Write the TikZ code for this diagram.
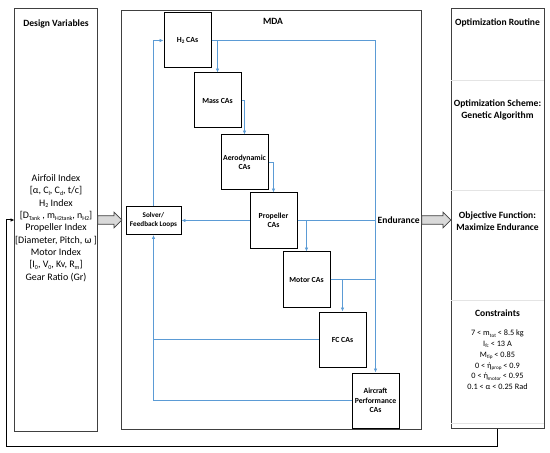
\documentclass[tikz,border=0pt]{standalone}
\usepackage{fontspec}
\setmainfont{Carlito}
\usetikzlibrary{arrows.meta,shapes.arrows,calc}
\definecolor{lnblue}{HTML}{5B9BD5}
\definecolor{boxgray}{HTML}{404040}
\definecolor{sepgray}{HTML}{E4E4E4}
\definecolor{arrfill}{HTML}{D9D9D9}
\newcommand{\sbs}[1]{\raisebox{-0.35ex}{\fontsize{6}{6}\selectfont #1}}
\newcommand{\sbsm}[1]{\raisebox{-0.3ex}{\fontsize{5.2}{5.2}\selectfont #1}}
\begin{document}
\begin{tikzpicture}[x=1bp,y=-1bp,
  outerbox/.style={draw=boxgray, line width=1bp, inner sep=0pt},
  cabox/.style={draw=black, line width=1bp, minimum width=47bp, minimum height=55bp, inner sep=1pt, align=center, font=\fontsize{7.8}{9.5}\selectfont\bfseries},
  solverbox/.style={draw=black, line width=1bp, minimum width=55bp, minimum height=28bp, inner sep=1pt, align=center, font=\fontsize{7.2}{9}\selectfont\bfseries},
  flow/.style={draw=lnblue, line width=1bp, -{Latex[length=4pt,width=3.6pt]}},
  flowline/.style={draw=lnblue, line width=1bp},
  fbline/.style={draw=black, line width=1bp, -{Latex[length=4pt,width=3.6pt]}},
  blockarr/.style={single arrow, draw=boxgray, fill=arrfill, line width=0.7pt, inner xsep=0pt, inner ysep=4pt, single arrow head extend=3.5pt, anchor=tail},
  title/.style={font=\fontsize{9.6}{11}\selectfont\bfseries, inner sep=0pt},
  optlabel/.style={font=\fontsize{9.6}{12}\selectfont\bfseries, align=center, inner sep=0pt},
  sep/.style={draw=sepgray, line width=0.7pt}]
\useasboundingbox (0,0) rectangle (550,453);

% outer boxes
\node[outerbox, minimum width=82bp, minimum height=422bp] (dv) at (56,220) {};
\node[outerbox, minimum width=300bp, minimum height=419bp] (mda) at (271,220) {};
\node[outerbox, minimum width=93bp, minimum height=419bp] (opt) at (497.5,218.5) {};

% separators in optimization box
\foreach \yy in {80.5,190.5,300.5,423.5}
  \draw[sep] ($(opt.west)+(0.5,\yy-218.5)$) -- ($(opt.east)+(-0.5,\yy-218.5)$);

% titles
\node[title] (dvtitle) at (56,24) {Design Variables};
\node[title] (mdatitle) at (273,21) {MDA};
\node[title] (opttitle) at (497.5,23) {Optimization Routine};

% design variables text
\node[align=center, inner sep=0pt, font=\fontsize{10}{12.4}\selectfont] (dvtext) at (56,228)
  {Airfoil Index\\
   {[}α, C\sbs{l}, C\sbs{d}, t/c{]}\\
   H\sbs{2} Index\\
   {[}D\sbs{Tank} , m\sbs{H2tank}, n\sbs{H2}{]}\\
   Propeller Index\\
   {[}Diameter, Pitch, ω {]}\\
   Motor Index\\
   {[}I\sbs{0}, V\sbs{0}, Kv, R\sbs{m}{]}\\
   Gear Ratio (Gr)};

% optimization text
\node[optlabel] (scheme) at (497.5,110) {Optimization Scheme:\\Genetic Algorithm};
\node[optlabel] (objective) at (497.5,221) {Objective Function:\\Maximize Endurance};
\node[optlabel] (constrtitle) at (497.5,313) {Constraints};
\node[align=center, inner sep=0pt, font=\fontsize{8.3}{10.8}\selectfont] (constr) at (497.5,360)
  {7 < m\sbsm{tot} < 8.5 kg\\
   I\sbsm{fc} < 13 A\\
   M\sbsm{tip} < 0.85\\
   0 < ή\sbsm{prop} < 0.9\\
   0 < ή\sbsm{motor} < 0.95\\
   0.1 < α < 0.25 Rad};

% CA boxes
\node[cabox] (h2) at (187.5,40.5) {H\sbsm{2} CAs};
\node[cabox] (mass) at (217.5,100.5) {Mass CAs};
\node[cabox] (aero) at (244.5,162.5) {Aerodynamic\\CAs};
\node[cabox] (prop) at (273.5,220.5) {Propeller\\CAs};
\node[cabox] (motor) at (306.5,279.5) {Motor CAs};
\node[cabox] (fc) at (342.5,339.5) {FC CAs};
\node[cabox] (acp) at (375.5,400.5) {Aircraft\\Performance\\CAs};
\node[solverbox] (solver) at (153.5,220.5) {Solver/\\Feedback Loops};

% endurance
\coordinate (endj) at (prop.east -| acp.north);
\node[title, anchor=west] (endur) at ($(endj)+(2,0)$) {Endurance};

% blue flows
\draw[flow] (h2.east) -- (h2.east -| acp.north) -- (acp.north);
\draw[flow] (h2.east) -| (mass.north);
\draw[flow] (mass.east) -| (aero.north);
\draw[flow] (aero.east) -| (prop.north);
\draw[flowline] (prop.east) -- (endj);
\draw[flow] (prop.east) -| (motor.north);
\draw[flowline] (motor.east) -- (motor.east -| acp.north);
\draw[flow] (motor.east) -| (fc.north);
\draw[flow] (prop.west) -- (solver.east);
\draw[flow] (solver.north) |- (h2.west);
\draw[flowline] (fc.west) -- (fc.west -| solver.south);
\draw[flow] (acp.west) -| (solver.south);

% block arrows
\node[blockarr, minimum height=24bp] (arr1) at (dv.east) {};
\node[blockarr, minimum height=29bp] (arr2) at (mda.east) {};

% feedback loop
\coordinate (fb) at (6.5,446.5);
\draw[fbline] (opt.south) |- (fb) |- (dv.west);
\end{tikzpicture}
\end{document}
